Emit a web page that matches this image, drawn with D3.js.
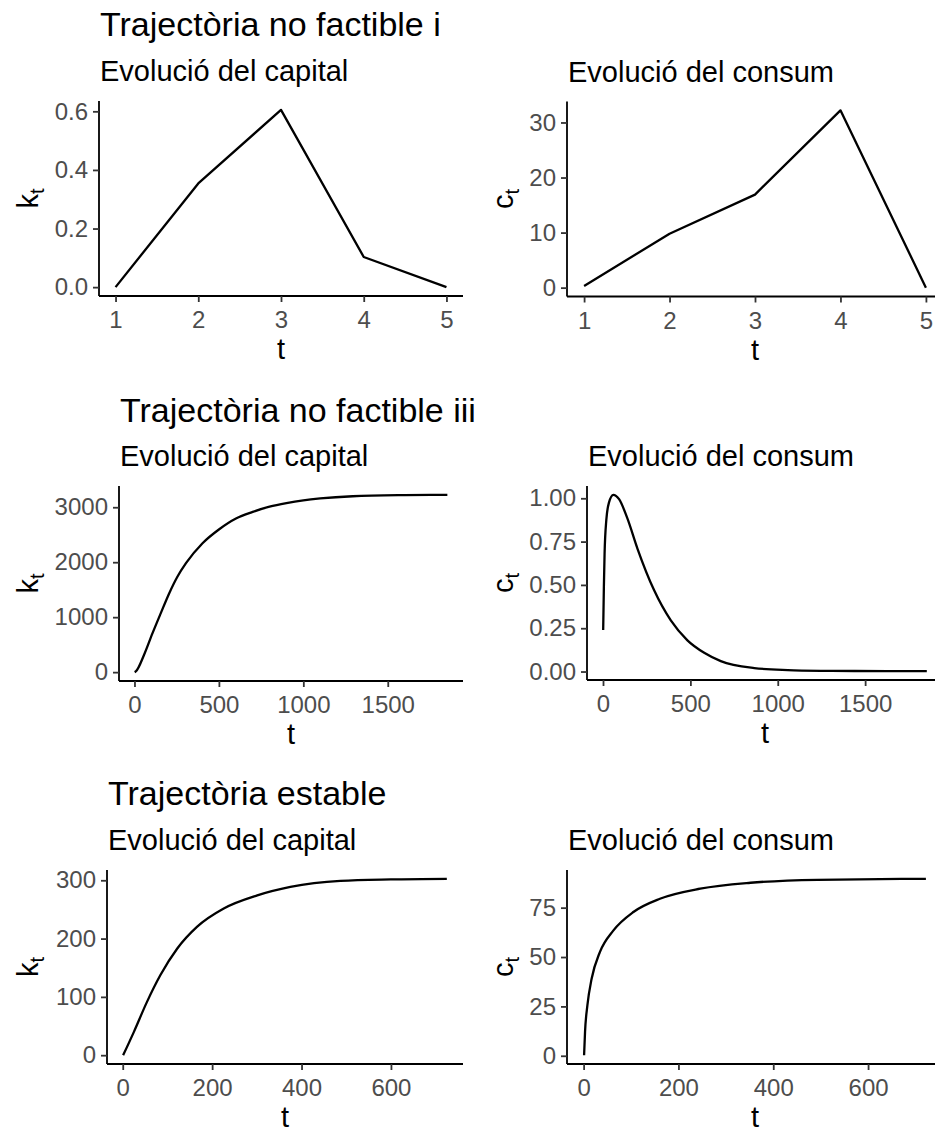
<!DOCTYPE html>
<html>
<head>
<meta charset="utf-8">
<script src="https://cdn.jsdelivr.net/npm/d3@7"></script>
<style>
  body { margin: 0; background: #fff; }
  svg { display: block; font-family: "Liberation Sans", Arial, sans-serif; }
</style>
</head>
<body>
<svg id="chart" width="935" height="1132"></svg>
<script>
// row titles
let rowTitles = ["Trajectòria no factible i", "Trajectòria no factible iii", "Trajectòria estable"];

// row 1 : no factible i
let t1 = [1, 2, 3, 4, 5];
let k1 = [0.0, 0.354, 0.605, 0.103, 0.0];
let c1 = [0.3, 9.8, 16.9, 32.2, 0.0];

// row 2 : no factible iii
let t2k = [1, 8, 57, 107, 156, 206, 255, 305, 403, 502, 601, 700, 800, 900, 1000, 1100, 1292, 1600, 1853];
let k2 = [0, 13, 316, 709, 1073, 1436, 1740, 1982, 2345, 2600, 2795, 2915, 3010, 3075, 3125, 3160, 3200, 3220, 3225];
let t2c = [1, 5, 9, 19, 34, 59, 92, 139, 197, 292, 388, 483, 579, 674, 866, 1057, 1250, 1439, 1853];
let c2 = [0.24, 0.49, 0.68, 0.875, 0.975, 1.02, 0.995, 0.885, 0.71, 0.47, 0.295, 0.18, 0.108, 0.06, 0.02, 0.008, 0.004, 0.003, 0.002];

// row 3 : estable
let t3k = [1, 25, 54, 84, 122, 166, 226, 301, 375, 487, 600, 725];
let k3 = [0, 40, 91, 137, 183, 220, 251.5, 274, 288.5, 299, 301.5, 302.5];
let t3c = [1, 3, 8, 17, 34.5, 63, 105, 161, 246, 352, 493, 722];
let c3 = [0.3, 12.1, 25.6, 39.1, 52.6, 63.5, 72.8, 79.5, 84.6, 87.6, 89.1, 89.6];

// tick values
let xTicks1 = [1, 2, 3, 4, 5];
let yTicksK1 = [0, 0.2, 0.4, 0.6];
let yTicksC1 = [0, 10, 20, 30];
let xTicks2 = [0, 500, 1000, 1500];
let yTicksK2 = [0, 1000, 2000, 3000];
let yTicksC2 = [0, 0.25, 0.5, 0.75, 1];
let xTicks3 = [0, 200, 400, 600];
let yTicksK3 = [0, 100, 200, 300];
let yTicksC3 = [0, 25, 50, 75];

let svg = d3.select("#chart");

const TITLE_SIZE = 34, SUB_SIZE = 29, AXTITLE_SIZE = 29, TICK_SIZE = 24;
const TICK_LEN = 6;

// ggplot style 5% expansion
let expand = (ext) => {
  let pad = (ext[1] - ext[0]) * 0.05;
  return [ext[0] - pad, ext[1] + pad];
};

let drawPanel = (box, xs, ys, xTicks, yTicks, yFmt, sym, subtitle, yTitleX, curve) => {
  let g = svg.append("g");
  let x = d3.scaleLinear().domain(expand(d3.extent(xs))).range([box.x0, box.x1]);
  let y = d3.scaleLinear().domain(expand(d3.extent(ys))).range([box.y1, box.y0]);

  g.append("text")
    .attr("x", box.x0 + 1)
    .attr("y", box.y0 - 20)
    .attr("font-size", SUB_SIZE)
    .attr("fill", "#000")
    .text(subtitle);

  let line = d3.line()
    .x((d) => x(d[0]))
    .y((d) => y(d[1]))
    .curve(curve);
  g.append("path")
    .datum(xs.map((v, i) => [v, ys[i]]))
    .attr("d", line)
    .attr("fill", "none")
    .attr("stroke", "#000")
    .attr("stroke-width", 2.3)
    .attr("stroke-linejoin", "round");

  let xAxis = g.append("g")
    .attr("transform", `translate(0,${box.y1})`)
    .call(d3.axisBottom(x).tickValues(xTicks).tickSize(TICK_LEN).tickPadding(9).tickFormat(d3.format("d")));
  let yAxis = g.append("g")
    .attr("transform", `translate(${box.x0},0)`)
    .call(d3.axisLeft(y).tickValues(yTicks).tickSize(TICK_LEN).tickPadding(5).tickFormat(d3.format(yFmt)));

  [xAxis, yAxis].forEach((a) => {
    a.select(".domain")
      .attr("stroke", "#000")
      .attr("stroke-width", 1.8);
    a.selectAll(".tick line").attr("stroke", "#333").attr("stroke-width", 1.8);
    a.selectAll(".tick text")
      .attr("fill", "#4d4d4d")
      .attr("font-size", TICK_SIZE)
      .attr("font-family", "Liberation Sans, Arial, sans-serif");
  });
  // plain axis lines, no outer ticks
  xAxis.select(".domain").attr("d", `M${box.x0},0H${box.x1}`);
  yAxis.select(".domain").attr("d", `M0,${box.y0}V${box.y1}`);

  g.append("text")
    .attr("x", (box.x0 + box.x1) / 2)
    .attr("y", box.y1 + 63)
    .attr("text-anchor", "middle")
    .attr("font-size", AXTITLE_SIZE)
    .text("t");

  let yt = g.append("text")
    .attr("transform", `translate(${yTitleX},${(box.y0 + box.y1) / 2}) rotate(-90)`)
    .attr("text-anchor", "middle")
    .attr("font-size", AXTITLE_SIZE);
  yt.append("tspan").text(sym);
  yt.append("tspan").attr("font-size", AXTITLE_SIZE * 0.7).attr("dy", "0.3em").text("t");
};

let rows = [
  {
    title: rowTitles[0], titleY: 36,
    left: { x0: 99, x1: 463, y0: 101, y1: 296 },
    right: { x0: 567, x1: 943, y0: 101.5, y1: 296.5 },
    xk: t1, k: k1, xc: t1, c: c1, curve: d3.curveLinear,
    xtk: xTicks1, xtc: xTicks1, ytk: yTicksK1, ytc: yTicksC1, fk: ".1f", fc: "d"
  },
  {
    title: rowTitles[1], titleY: 422,
    left: { x0: 119, x1: 463, y0: 486, y1: 681 },
    right: { x0: 587, x1: 943, y0: 486, y1: 680 },
    xk: t2k, k: k2, xc: t2c, c: c2, curve: d3.curveMonotoneX,
    xtk: xTicks2, xtc: xTicks2, ytk: yTicksK2, ytc: yTicksC2, fk: "d", fc: ".2f"
  },
  {
    title: rowTitles[2], titleY: 805,
    left: { x0: 107, x1: 463, y0: 870, y1: 1064 },
    right: { x0: 567, x1: 943, y0: 870, y1: 1064 },
    xk: t3k, k: k3, xc: t3c, c: c3, curve: d3.curveMonotoneX,
    xtk: xTicks3, xtc: xTicks3, ytk: yTicksK3, ytc: yTicksC3, fk: "d", fc: "d"
  }
];

rows.forEach((r) => {
  svg.append("text")
    .attr("x", r.left.x0 + 1)
    .attr("y", r.titleY)
    .attr("font-size", TITLE_SIZE)
    .attr("fill", "#000")
    .text(r.title);
  drawPanel(r.left, r.xk, r.k, r.xtk, r.ytk, r.fk, "k", "Evolució del capital", 38, r.curve);
  drawPanel(r.right, r.xc, r.c, r.xtc, r.ytc, r.fc, "c", "Evolució del consum", 513, r.curve);
});
</script>
</body>
</html>
